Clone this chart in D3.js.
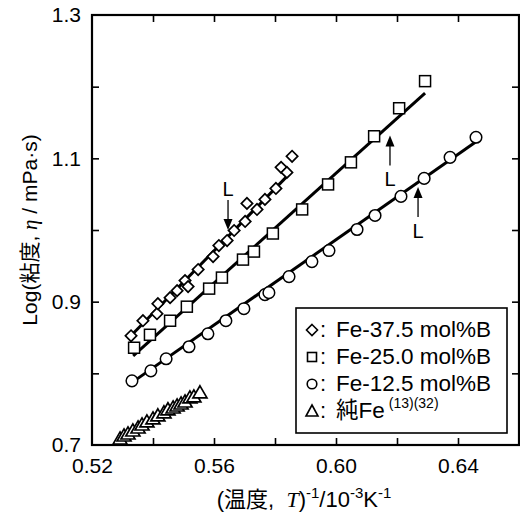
<!DOCTYPE html>
<html><head><meta charset="utf-8">
<script src="https://cdn.jsdelivr.net/npm/d3@7"></script>
<style>
body{margin:0;background:#fff;}
svg{display:block;font-family:"Liberation Sans",Arial,"Noto Sans CJK JP",sans-serif;}
</style></head>
<body><svg id="c" width="520" height="512"></svg>
<script>
// ---- data ----
const xTicks = [0.52,0.54,0.56,0.58,0.60,0.62,0.64,0.66];
const xLabels = [0.52,0.56,0.60,0.64];
const yTicks = [0.7,0.8,0.9,1.0,1.1,1.2,1.3];
const yLabels = [0.7,0.9,1.1,1.3];

const b375x = [0.5328,0.5367,0.5413,0.5416,0.5456,0.5479,0.5505,0.5515,0.5548,0.5597,0.5616,0.5643,0.5666,0.5702,0.5708,0.5741,0.5767,0.5803,0.5820,0.5839,0.5856];
const b375y = [0.8524,0.8734,0.8832,0.8972,0.9056,0.9154,0.9294,0.9210,0.9448,0.9629,0.9783,0.9853,0.9993,1.0119,1.0371,1.0287,1.0427,1.0580,1.0874,1.0804,1.1028];
const b375fitX = [0.5318,0.5836];
const b375fitY = [0.8483,1.0734];

const b250x = [0.5338,0.5390,0.5456,0.5511,0.5584,0.5626,0.5695,0.5731,0.5793,0.5889,0.5974,0.6049,0.6125,0.6207,0.6292];
const b250y = [0.8357,0.8538,0.8734,0.8930,0.9182,0.9336,0.9587,0.9699,0.9951,1.0287,1.0636,1.0944,1.1308,1.1699,1.2077];
const b250fitX = [0.5335,0.6292];
const b250fitY = [0.8245,1.1909];

const b125x = [0.5331,0.5393,0.5443,0.5518,0.5580,0.5639,0.5698,0.5767,0.5780,0.5846,0.5921,0.5977,0.6069,0.6128,0.6213,0.6289,0.6374,0.6459];
const b125y = [0.7895,0.8035,0.8203,0.8371,0.8552,0.8734,0.8902,0.9098,0.9126,0.9350,0.9559,0.9713,1.0007,1.0203,1.0469,1.0720,1.1014,1.1294];
const b125fitX = [0.5334,0.6466];
const b125fitY = [0.7881,1.1252];

const feX = [0.5292,0.5305,0.5318,0.5334,0.5351,0.5364,0.5380,0.5400,0.5416,0.5436,0.5449,0.5466,0.5479,0.5492,0.5505,0.5521,0.5534,0.5554];
const feY = [0.7070,0.7112,0.7140,0.7182,0.7224,0.7266,0.7308,0.7350,0.7392,0.7434,0.7476,0.7503,0.7531,0.7559,0.7587,0.7643,0.7657,0.7713];

// liquidus markers: x, arrow tip y, direction (1 = arrow points down from above, -1 = points up from below)
const liqX = [0.5646,0.6177,0.6269];
const liqY = [1.0000,1.1320,1.0600];
const liqDir = [1,-1,-1];

const legendLabels = ["Fe-37.5 mol%B","Fe-25.0 mol%B","Fe-12.5 mol%B","純Fe"];

// ---- drawing ----
const svg = d3.select("#c");
const x = d3.scaleLinear().domain([0.52,0.66]).range([92,519]);
const y = d3.scaleLinear().domain([0.7,1.3]).range([445,15]);
const fmt = d=> xLabels.some(v=>Math.abs(v-d)<1e-9) ? d.toFixed(2) : "";
const fmtY = d=> yLabels.some(v=>Math.abs(v-d)<1e-9) ? d.toFixed(1) : "";

function styleAxis(g){
  g.select(".domain").remove();
  g.selectAll(".tick line").attr("stroke","#000").attr("stroke-width",1.6);
  g.selectAll("text").attr("font-size",21).attr("fill","#000").attr("font-family",'"Liberation Sans",Arial,sans-serif');
}
svg.append("g").attr("transform","translate(0,445)")
  .call(d3.axisBottom(x).tickValues(xTicks.slice(0,-1)).tickSizeInner(-7).tickSizeOuter(0).tickPadding(13).tickFormat(fmt))
  .call(styleAxis);
svg.append("g").attr("transform","translate(0,15)")
  .call(d3.axisTop(x).tickValues(xTicks.slice(1,-1)).tickSizeInner(-7).tickSizeOuter(0).tickFormat(""))
  .call(styleAxis);
svg.append("g").attr("transform","translate(92,0)")
  .call(d3.axisLeft(y).tickValues(yTicks).tickSizeInner(-7).tickSizeOuter(0).tickPadding(11).tickFormat(fmtY))
  .call(styleAxis);
svg.append("g").attr("transform","translate(519,0)")
  .call(d3.axisRight(y).tickValues(yTicks.slice(1,-1)).tickSizeInner(-7).tickSizeOuter(0).tickFormat(""))
  .call(styleAxis);
svg.selectAll(".tick").filter(d=>Math.abs(d-0.52)<1e-9||Math.abs(d-0.7)<1e-9||Math.abs(d-1.3)<1e-9).select("line").remove();

// frame
svg.append("rect").attr("x",x(0.52)).attr("y",y(1.3)).attr("width",x(0.66)-x(0.52)).attr("height",y(0.7)-y(1.3))
  .attr("fill","none").attr("stroke","#000").attr("stroke-width",2.2);

// fit lines
const line = d3.line().x(d=>x(d[0])).y(d=>y(d[1]));
[[b375fitX,b375fitY],[b250fitX,b250fitY],[b125fitX,b125fitY]].forEach(([fx,fy])=>{
  svg.append("path").attr("d",line(d3.zip(fx,fy))).attr("fill","none").attr("stroke","#000").attr("stroke-width",3);
});

// markers
function drawPts(xs,ys,type,size,rot){
  const sym = d3.symbol().type(type).size(size);
  svg.append("g").selectAll("path").data(d3.zip(xs,ys)).join("path")
    .attr("transform",d=>`translate(${x(d[0])},${y(d[1])})${rot?" rotate(45)":""}`)
    .attr("d",sym).attr("fill","#fff").attr("stroke","#000").attr("stroke-width",1.7);
}
drawPts(b375x,b375y,d3.symbolSquare,64,true);   // diamonds
svg.append("g").selectAll("rect").data(d3.zip(b250x,b250y)).join("rect")
  .attr("x",d=>x(d[0])-5.5).attr("y",d=>y(d[1])-5.5).attr("width",11).attr("height",11)
  .attr("fill","#fff").attr("stroke","#000").attr("stroke-width",1.5);
svg.append("g").selectAll("circle").data(d3.zip(b125x,b125y)).join("circle")
  .attr("cx",d=>x(d[0])).attr("cy",d=>y(d[1])).attr("r",5.8)
  .attr("fill","#fff").attr("stroke","#000").attr("stroke-width",1.5);
drawPts(feX,feY,d3.symbolTriangle,85,false);

// liquidus arrows
liqX.forEach((lx,i)=>{
  const px = x(lx), tip = y(liqY[i]), dir = liqDir[i];
  const tail = tip - dir*30;
  svg.append("line").attr("x1",px).attr("x2",px).attr("y1",tail).attr("y2",tip - dir*8)
    .attr("stroke","#000").attr("stroke-width",1.3);
  svg.append("path").attr("d",`M${px},${tip} L${px-4.5},${tip-dir*11} L${px+4.5},${tip-dir*11} Z`).attr("fill","#000");
  svg.append("text").attr("x",px).attr("y", dir>0 ? tail-4 : tail+21).attr("text-anchor","middle")
    .attr("font-size",20).text("L");
});

// legend
const lg = svg.append("g");
lg.append("rect").attr("x",296).attr("y",308).attr("width",211).attr("height",125)
  .attr("fill","#fff").attr("stroke","#000").attr("stroke-width",1.6);
const rowsY = [337,364,391,418];
legendLabels.forEach((t,i)=>{
  const cy = rowsY[i]-7, cx = 312;
  let m;
  if(i===0) m = lg.append("path").attr("d",`M${cx},${cy-5.5} L${cx+5.5},${cy} L${cx},${cy+5.5} L${cx-5.5},${cy} Z`);
  if(i===1) m = lg.append("rect").attr("x",cx-4.5).attr("y",cy-4.5).attr("width",9).attr("height",9);
  if(i===2) m = lg.append("circle").attr("cx",cx).attr("cy",cy).attr("r",4.8);
  if(i===3) m = lg.append("path").attr("d",`M${cx},${cy-6} L${cx+6},${cy+5} L${cx-6},${cy+5} Z`);
  m.attr("fill","#fff").attr("stroke","#000").attr("stroke-width",1.6);
  lg.append("text").attr("x",320).attr("y",rowsY[i]).attr("font-size",22).text(":");
  const tx = lg.append("text").attr("x",336).attr("y",rowsY[i]).attr("font-size",22.5);
  tx.append("tspan").text(t);
  if(i===3){
    tx.append("tspan").attr("font-size",14).attr("dx",4).attr("dy",-10).text("(13)(32)");
  }
});

// axis titles
const xt = svg.append("text").attr("x",304).attr("y",507).attr("text-anchor","middle").attr("font-size",22);
xt.append("tspan").text("(温度,\u00a0\u00a0");
xt.append("tspan").attr("font-family",'"Liberation Serif","Times New Roman",serif').attr("font-style","italic").text("T");
xt.append("tspan").text(")");
xt.append("tspan").attr("font-size",15).attr("dy",-9).text("-1");
xt.append("tspan").attr("dy",9).text("/10");
xt.append("tspan").attr("font-size",15).attr("dy",-9).text("-3");
xt.append("tspan").attr("dy",9).text("K");
xt.append("tspan").attr("font-size",15).attr("dy",-9).text("-1");

const yt = svg.append("text").attr("transform","translate(37,230) rotate(-90)").attr("text-anchor","middle").attr("font-size",21);
yt.append("tspan").text("Log(粘度, ");
yt.append("tspan").attr("font-family",'"Liberation Serif","Times New Roman",serif').attr("font-style","italic").text("η");
yt.append("tspan").text(" / mPa·s)");
</script></body></html>
